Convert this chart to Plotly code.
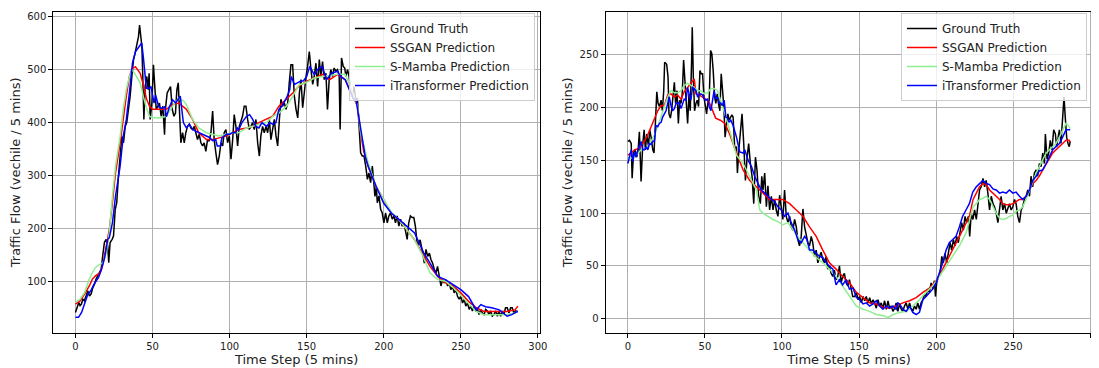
import plotly.graph_objects as go

# ---------------- data ----------------
# Left panel: (time step, traffic flow)
left_truth = [(0,41),(0.9,50),(2.2,60),(3,54),(3.9,57),(4.8,66),(5.8,63),(6.9,72),(8,82),(9.1,72),(10.2,76),(11.3,88),(12.3,94),(13.4,104),(14.5,110),(15.6,116),(16.7,123),(17.7,148),(18.8,173),(19.9,179),(21,166),(21.6,135),(22.5,173),(23.8,179),(24.7,185),(25.8,235),(26.8,248),(27.9,298),(29,342),(30.1,373),(31.2,361),(32.3,392),(33.3,399),(34.4,424),(35.5,449),(36.6,486),(37.7,518),(38.7,530),(39.8,543),(40.9,561),(41.6,583),(42.2,561),(43.1,543),(43.7,486),(44.4,405),(45.2,467),(46.3,486),(47.2,461),(47.8,492),(48.5,405),(49.6,436),(50.6,508),(51.5,461),(52.4,424),(53.5,430),(54.5,436),(55.6,411),(56.7,430),(57.8,376),(58.4,424),(59.5,455),(60.6,461),(61.7,467),(62.8,424),(63.9,411),(64.9,417),(65.8,461),(66.7,474),(67.6,390),(68.4,361),(69.5,380),(70.6,361),(71.6,380),(72.7,392),(73.8,396),(74.9,389),(76,386),(77.1,392),(78.1,380),(79.2,367),(80.3,377),(81.4,361),(82.5,355),(83.5,361),(84.6,345),(85.7,367),(86.8,364),(87.9,380),(89,421),(90,367),(91.1,342),(92.2,320),(93.3,336),(94.4,361),(95.5,355),(96.5,380),(97.6,386),(98.7,361),(99.8,374),(100.9,330),(102,367),(103,414),(104.1,392),(105.2,355),(106.3,392),(107.4,405),(108.4,411),(109.5,430),(110.6,430),(111.7,405),(112.8,386),(113.9,392),(114.9,399),(116,386),(117.1,405),(118.2,361),(119.3,336),(120.3,374),(121.4,392),(122.5,380),(123.6,392),(124.7,380),(125.8,405),(126.8,367),(127.9,386),(129,405),(130.1,374),(131.2,355),(132.3,405),(133.3,443),(134.4,430),(135.5,436),(136.6,424),(137.7,436),(138.7,474),(139.8,508),(140.9,508),(142,449),(143.1,424),(144.2,408),(145.3,455),(146.3,480),(147.4,427),(148.5,461),(149.6,486),(150.6,505),(151.7,533),(152.8,499),(153.9,471),(154.9,486),(156,511),(157.1,467),(158.2,518),(159.2,486),(160.3,514),(161.4,480),(162.5,492),(163.5,424),(164.6,480),(165.7,499),(166.8,486),(167.8,502),(168.9,496),(170,499),(171.1,486),(171.7,386),(172.6,521),(173.7,505),(174.7,502),(175.4,486),(176.5,499),(177.5,486),(178.6,458),(179.7,449),(180.8,467),(181.8,442),(182.9,445),(184,392),(185,342),(186.1,336),(187.2,336),(188.3,317),(189.4,292),(190.4,304),(191.5,286),(192.6,317),(193.7,273),(194.3,260),(195.2,279),(195.8,248),(196.9,261),(198,235),(199,229),(200.1,210),(201.2,229),(202.3,210),(203.3,223),(204.4,229),(205.5,217),(206.6,223),(207.6,210),(208.7,223),(209.8,204),(210.9,217),(211.9,204),(213,210),(214.1,195),(215.2,179),(216.2,210),(217.3,223),(218.4,220),(219.5,220),(220.5,204),(221.6,173),(222.7,170),(223.6,178),(225.3,153),(226.3,134),(227.4,160),(228.5,147),(229.6,153),(230.6,141),(231.7,134),(232.8,122),(233.9,116),(234.9,128),(236,109),(237.1,91),(238.2,103),(239.2,97),(240.3,103),(241.4,91),(242.5,97),(243.5,84),(244.6,91),(245.7,78),(246.8,84),(247.8,72),(248.9,66),(250,72),(251.1,59),(252.2,66),(253.2,53),(254.3,59),(255.4,47),(256.5,53),(257.5,44),(258.6,53),(259.7,44),(260.8,47),(261.8,37),(262.9,47),(264,40),(265.1,37),(266.1,47),(267.2,44),(268.3,37),(269.4,44),(270.4,34),(271.5,37),(272.6,44),(273.7,34),(274.7,44),(275.8,34),(276.9,44),(277.9,37),(279,50),(280.1,50),(281.2,40),(282.3,50),(283.3,50),(284.4,40),(285.5,44),(286.6,44),(287,43)]

left_ssgan = [(0,57),(3,63),(6,76),(9,91),(11,104),(13,110),(16,116),(18,135),(20,166),(22,198),(24,248),(26,304),(29,361),(31,411),(33,449),(35,486),(37,502),(39,504),(42,492),(44,471),(46,445),(48,430),(50,424),(55,424),(59,424),(63,433),(67,436),(72,424),(76,405),(80,380),(85,367),(89,367),(93,370),(98,374),(102,380),(106,386),(111,389),(115,392),(119,399),(124,405),(128,411),(132,430),(137,443),(141,455),(145,468),(150,477),(155,483),(160,490),(165,480),(170,490),(175,480),(180,448),(183,430),(185,380),(187,345),(190,316),(195,279),(200,254),(205,228),(210,216),(215,197),(220,178),(225,153),(230,128),(235,109),(240,97),(245,91),(250,78),(255,62),(260,50),(265,43),(270,43),(275,43),(280,43),(285,46),(287,53)]

left_smamba = [(0,60),(3,66),(6,79),(9,104),(11,116),(13,126),(16,132),(18,135),(20,154),(22,192),(24,260),(26,317),(29,373),(31,424),(33,461),(35,486),(37,499),(39,489),(42,474),(44,449),(46,427),(48,411),(50,408),(55,408),(59,411),(63,430),(67,445),(70,440),(72,433),(76,405),(80,389),(85,380),(89,377),(93,374),(98,377),(102,380),(106,380),(111,389),(115,392),(119,396),(124,399),(128,411),(132,417),(137,430),(141,449),(145,470),(150,475),(155,483),(160,486),(165,488),(170,490),(175,490),(180,455),(183,430),(185,380),(190,322),(195,279),(200,254),(205,230),(210,216),(215,197),(220,178),(225,150),(230,116),(235,103),(240,100),(245,88),(250,72),(255,58),(260,43),(265,37),(270,37),(275,37),(280,37),(285,40),(287,43)]

left_itrans = [(0,32),(2,32),(4,41),(6,60),(8,75),(10,82),(12,94),(15,107),(17,123),(19,145),(21,179),(22,182),(24,210),(26,260),(29,317),(31,373),(33,405),(35,455),(37,511),(39,533),(42,546),(43,549),(44,524),(45,486),(46,464),(48,464),(49,467),(51,436),(52,451),(54,429),(56,426),(58,429),(59,410),(61,429),(63,442),(65,436),(67,445),(68,449),(70,399),(72,389),(74,396),(76,386),(78,383),(80,380),(82,377),(85,374),(87,371),(89,365),(91,367),(92,355),(94,355),(95,370),(98,377),(100,377),(102,380),(104,380),(105,389),(106,386),(108,399),(111,411),(113,414),(115,405),(117,392),(119,389),(121,399),(124,392),(126,399),(128,396),(130,399),(132,424),(134,430),(137,446),(139,461),(140,486),(141,480),(142,471),(144,474),(146,477),(148,478),(150,486),(152,505),(155,489),(157,499),(160,505),(163,480),(166,492),(170,496),(172,486),(175,480),(178,461),(180,445),(182,442),(185,392),(188,335),(190,316),(195,279),(200,247),(205,228),(210,216),(215,203),(220,191),(223,172),(226,153),(230,134),(235,109),(240,103),(245,93),(250,84),(255,71),(260,46),(263,56),(266,52),(270,50),(275,46),(280,34),(283,37),(287,43)]

# Right panel: (time step, traffic flow)
right_truth = [(0,168),(1.1,169),(2.2,166),(2.8,133),(3.7,157),(4.7,160),(5.8,153),(6.7,160),(7.5,177),(8.6,130),(9.7,166),(10.6,179),(11.4,160),(12.3,175),(13.4,163),(14.2,179),(15.1,172),(16.2,160),(17,157),(17.9,188),(18.8,215),(19.6,204),(20.5,201),(21.6,207),(22.4,197),(23.3,216),(23.9,243),(25.2,241),(26.1,229),(26.7,194),(27.6,190),(28.4,197),(29.3,213),(30.2,224),(31,204),(31.9,216),(32.8,185),(33.6,207),(34.5,204),(35.3,213),(36.2,245),(37.1,226),(37.9,199),(38.8,185),(39.7,213),(40.5,197),(41.4,245),(41.8,276),(42.5,229),(43.3,197),(44.2,204),(45,207),(45.9,201),(46.8,235),(47.6,232),(48.5,232),(49.4,210),(50.2,201),(51.1,194),(51.9,204),(52.8,207),(53.7,254),(54.5,251),(55.4,235),(56.3,210),(57.1,204),(58,213),(58.8,204),(59.7,197),(60.6,232),(61.4,220),(62.3,201),(63.1,172),(64,185),(64.9,194),(65.7,188),(66.6,191),(67.5,193),(68.3,191),(69.4,160),(70.5,163),(71.1,138),(72.2,163),(73.3,185),(74.1,194),(75.2,166),(76.3,131),(77.4,153),(78.4,166),(79.5,147),(80.6,135),(81.7,109),(82.8,153),(83.8,141),(84.9,116),(86,109),(86.9,135),(87.7,122),(88.8,138),(89.9,106),(90.9,126),(92,103),(93.1,116),(94.2,103),(95.3,113),(96.3,103),(97.4,97),(98.5,117),(99.6,103),(100.6,94),(101.7,122),(102.8,97),(103.9,91),(105,97),(106,87),(107.1,84),(108.2,94),(109.3,87),(110.3,75),(111.4,69),(112.5,78),(113.6,104),(114.7,87),(115.7,78),(116.8,72),(117.9,69),(119,78),(120,72),(121.1,59),(122.2,65),(123.3,53),(124.4,59),(125.4,63),(126.5,56),(127.6,53),(128.7,59),(129.7,47),(130.8,50),(131.9,43),(133,40),(134,46),(135.1,37),(136.2,40),(137.3,50),(138.4,34),(139.4,40),(140.5,43),(141.6,34),(142.7,31),(143.8,37),(144.8,28),(145.9,21),(147.2,21),(148.3,25),(149.4,18),(150.4,21),(151.5,15),(152.6,21),(153.7,17),(154.7,21),(155.8,15),(156.9,20),(158,14),(159.1,18),(160.1,15),(161.2,10),(162.3,18),(163.4,12),(164.4,15),(165.5,10),(166.6,17),(167.7,9),(168.8,17),(169.8,10),(170.9,12),(172,7),(173.1,10),(174.1,15),(175.2,7),(176.3,14),(177.4,9),(178.4,7),(179.5,12),(180.6,15),(181.7,9),(182.8,15),(183.8,10),(184.9,7),(186,12),(187.1,9),(188.1,15),(189.2,9),(190.3,15),(191.4,18),(192.5,23),(193.5,21),(194.6,28),(195.7,25),(196.8,34),(197.8,28),(198.9,36),(199.6,21),(200.4,34),(201.5,40),(202.6,43),(203.7,59),(204.7,53),(205.8,62),(206.9,53),(208,62),(209.1,72),(210.1,65),(211.2,75),(212.3,69),(213.4,78),(214.4,72),(215.5,84),(216.6,91),(217.7,84),(218.8,97),(219.8,91),(220.9,97),(221.8,78),(222.8,100),(223.9,94),(225,103),(226.1,94),(227.2,113),(228.2,122),(229.3,125),(230.4,133),(231.5,125),(232.5,131),(233.6,119),(234.7,103),(235.8,116),(236.9,109),(237.9,106),(239,100),(240.1,91),(241.2,103),(242.2,116),(243.3,103),(244.4,109),(245.5,100),(246.6,106),(247.6,109),(248.7,103),(249.8,106),(250.9,113),(251.9,109),(253,97),(254.1,91),(255.2,103),(256.2,106),(257.3,113),(258.4,116),(259.5,122),(260.6,116),(261.6,135),(262.7,125),(263.8,138),(264.9,141),(265.9,135),(267,147),(268.1,144),(269.2,157),(270.3,147),(270.9,175),(272,151),(273.1,157),(274.1,169),(275.2,160),(276.3,179),(277.4,175),(278.2,163),(279.1,172),(280,179),(281,166),(282.1,197),(283,210),(283.8,191),(284.7,172),(285.6,166),(286.4,163),(287,168)]

right_ssgan = [(0,155),(2.2,157),(4.3,160),(6.5,161),(8.6,164),(10.8,168),(12.9,174),(15.1,182),(17.2,190),(19.4,197),(21.6,202),(23.7,202),(25.9,212),(28,213),(30.2,210),(32.3,212),(34.5,208),(36.6,215),(38.8,219),(40.9,223),(43.1,227),(44.2,213),(46.3,212),(48.5,210),(50.6,208),(52.8,205),(55,197),(57,190),(60,188),(63,185),(66,175),(68,166),(70.5,157),(74.8,141),(79.1,131),(83.4,125),(87.7,119),(92,113),(96.3,113),(100.6,113),(102.8,111),(105,109),(109.3,103),(113.6,97),(117.9,87),(122.2,78),(126.5,65),(130.8,53),(135.1,47),(139.4,40),(143.8,34),(147,28),(148.3,25),(152.6,20),(156.9,15),(161.2,14),(165.5,11),(169.8,10),(174.1,12),(178.4,15),(182.8,17),(187.1,20),(191.4,25),(195.7,29),(200,36),(204.3,47),(208.6,59),(212.9,72),(217.2,84),(221.6,97),(224,113),(226.1,119),(228.2,125),(230.4,128),(232.5,127),(234.7,122),(236.9,119),(239,116),(241.2,113),(243.3,109),(245.5,108),(247.6,108),(249.8,109),(251.9,111),(254,113),(256,113),(258.4,116),(260.6,122),(262.7,128),(264.9,131),(267,135),(269.2,141),(271.4,146),(273.5,152),(275.7,157),(277.8,160),(280,163),(282.1,166),(284.3,169),(286.4,169),(287,167)]

right_smamba = [(0,153),(2.2,152),(4.3,153),(6.5,157),(8.6,160),(10.8,161),(12.9,163),(15.1,168),(17.2,174),(19.4,182),(21.6,191),(23.7,201),(25.9,210),(28,216),(30.2,214),(32.3,214),(34.5,216),(36.6,221),(38.8,223),(40.9,221),(43.1,219),(45.3,216),(47.4,216),(49.6,213),(51.7,214),(53.9,218),(56,218),(58.2,216),(60.3,207),(62.5,197),(64.7,186),(66.5,176),(68.5,165),(70.5,155),(74.8,147),(79.1,135),(83.4,122),(85.6,103),(87.7,100),(90.9,97),(94.2,94),(97.4,92),(100.6,89),(103.9,91),(107.1,84),(110.3,78),(113.6,72),(117.9,65),(122.2,58),(126.5,53),(130.8,47),(135.1,40),(139.4,31),(143.8,21),(147,14),(148.3,12),(152.6,9),(156.9,7),(161.2,4),(165.5,3),(168.8,1),(172,4),(176.3,6),(180.6,7),(184.9,12),(189.2,18),(193.5,25),(197.8,31),(202.2,40),(206.5,50),(210.8,59),(215.1,69),(219.4,81),(222.6,97),(224,106),(226.1,109),(228.2,113),(230.4,114),(232.5,116),(234.7,113),(236.9,106),(239,100),(241.2,95),(243.3,94),(245.5,95),(247.6,97),(249.8,98),(251.9,102),(254.1,103),(256.2,106),(258.4,113),(260.6,122),(262.7,131),(264.9,138),(267,144),(269.2,150),(271.4,157),(273.5,160),(275.7,163),(277.8,166),(280,172),(282.1,179),(284.3,185),(285.3,184),(286.4,182),(287,180)]

right_itrans = [(0,147),(1.1,153),(2.2,160),(3.3,149),(4.3,158),(5.4,153),(6.5,160),(7.5,163),(8.6,168),(9.7,160),(10.8,160),(11.9,163),(13,160),(14,166),(15.1,165),(16.2,168),(17.2,168),(18.3,183),(19.4,182),(20.5,185),(21.6,186),(22.6,191),(23.7,194),(24.8,197),(25.9,204),(26.9,210),(28,202),(29.1,197),(30.2,199),(31.3,204),(32.3,204),(33.4,205),(34.5,199),(35.6,204),(36.6,208),(37.7,207),(38.8,219),(39.9,212),(40.9,207),(42,219),(43.1,218),(44.2,216),(45.3,210),(46.3,212),(47.4,213),(48.5,212),(49.6,208),(50.6,207),(51.7,208),(52.8,201),(53.9,197),(55,207),(56,216),(57.1,208),(58.2,210),(59.3,204),(60.3,204),(61.4,202),(62.5,207),(63.6,191),(64.7,190),(65.7,186),(66.8,188),(68.3,183),(70.5,172),(72.6,158),(74.8,157),(75.9,160),(78.1,150),(80.3,144),(82.3,135),(84.5,128),(86.6,122),(88.8,119),(90.9,116),(93.1,113),(95.3,111),(97.4,106),(99.6,103),(101.7,97),(103.9,100),(106,91),(108.2,84),(110.3,75),(112.5,72),(114.7,78),(116.2,75),(117.9,65),(120,65),(122.2,62),(124.4,59),(126.5,58),(128.7,53),(130.8,50),(133,47),(135.1,32),(137.3,37),(139.4,32),(141.6,37),(143.8,28),(146.1,29),(148.3,20),(150.4,18),(152.6,14),(154.7,15),(156.9,12),(159.1,14),(161.2,17),(163.4,12),(165.5,9),(167.7,12),(169.8,10),(172,12),(174.1,9),(175.2,15),(176.3,14),(178.4,9),(180.6,7),(182.8,12),(184.9,6),(187.1,4),(189.2,6),(191.4,18),(193.5,21),(195.7,25),(197.8,28),(200,34),(202.2,43),(204.3,53),(206.5,65),(208.6,72),(210.8,75),(212.9,78),(215.1,87),(217.2,97),(219.4,103),(221.6,109),(223.8,120),(226.1,125),(228.2,128),(230.4,131),(232.5,128),(234.7,127),(236.9,123),(239,122),(241.2,119),(243.3,120),(245.5,119),(247.6,122),(249.8,119),(251.9,120),(254.1,116),(256.2,113),(258.4,116),(260.6,122),(262.7,131),(264.9,135),(267,140),(269.2,141),(271.4,147),(273.5,153),(275.7,160),(277.8,163),(280,166),(282.1,172),(284.3,179),(286.4,179),(287,179)]

series_names = ["Ground Truth", "SSGAN Prediction", "S-Mamba Prediction", "iTransformer Prediction"]
series_colors = ["black", "red", "#90ee90", "blue"]
x_ticks = [0, 50, 100, 150, 200, 250, 300]
left_y_ticks = [100, 200, 300, 400, 500, 600]
right_y_ticks = [0, 50, 100, 150, 200, 250]
x_title = "Time Step (5 mins)"
y_title = "Traffic Flow (vechile / 5 mins)"

# ---------------- figure ----------------
# The page body has an 8px margin, so the figure is 8px smaller each way and
# positions below are page pixels minus that offset.
OFF = 8
W, H = 1099 - OFF, 368 - OFF
FONT = "DejaVu Sans"
fig = go.Figure()

panels = [
    ("x", "y", "legend", [left_truth, left_ssgan, left_smamba, left_itrans]),
    ("x2", "y2", "legend2", [right_truth, right_ssgan, right_smamba, right_itrans]),
]
for xa, ya, leg, groups in panels:
    for name, color, pts in zip(series_names, series_colors, groups):
        t = [p[0] for p in pts]
        v = [p[1] for p in pts]
        fig.add_trace(go.Scatter(
            x=t, y=v, mode="lines", name=name,
            line=dict(color=color, width=1.5),
            xaxis=xa, yaxis=ya, legend=leg,
        ))

def px_x(p):
    return (p - OFF) / W

def px_y(p):
    return 1 - (p - OFF) / H

axis_common = dict(
    showgrid=True, gridcolor="#b0b0b0", gridwidth=1,
    showline=True, linecolor="black", linewidth=1, mirror=True,
    ticks="outside", ticklen=4, tickwidth=1, tickcolor="black",
    zeroline=False, automargin=False,
    tickfont=dict(family=FONT, size=10, color="#222"),
)

y_dom = [px_y(333.2), px_y(11.5)]
fig.update_layout(
    width=W, height=H,
    margin=dict(l=0, r=0, t=0, b=0),
    paper_bgcolor="white", plot_bgcolor="white",
    font=dict(family=FONT, color="#222"),
    xaxis=dict(domain=[px_x(53.3), px_x(540)], range=[-14.35, 301.35], tickvals=x_ticks,
               title=dict(text=x_title, font=dict(family=FONT, size=13), standoff=3), anchor="y", **axis_common),
    yaxis=dict(domain=y_dom, range=[2, 608.5], tickvals=left_y_ticks,
               title=dict(text=y_title, font=dict(family=FONT, size=13), standoff=4), anchor="x", **axis_common),
    xaxis2=dict(domain=[px_x(605.7), px_x(1092.3)], range=[-14.35, 301.35], tickvals=x_ticks,
                title=dict(text=x_title, font=dict(family=FONT, size=13), standoff=3), anchor="y2", **axis_common),
    yaxis2=dict(domain=y_dom, range=[-13.7, 291], tickvals=right_y_ticks,
                title=dict(text=y_title, font=dict(family=FONT, size=13), standoff=4), anchor="x2", **axis_common),
    legend=dict(x=px_x(535), y=px_y(13), xanchor="right", yanchor="top",
                bgcolor="rgba(255,255,255,0.8)", bordercolor="#cccccc", borderwidth=1,
                font=dict(family=FONT, size=12, color="#222"), tracegroupgap=0),
    legend2=dict(x=px_x(1087), y=px_y(13), xanchor="right", yanchor="top",
                 bgcolor="rgba(255,255,255,0.8)", bordercolor="#cccccc", borderwidth=1,
                 font=dict(family=FONT, size=12, color="#222"), tracegroupgap=0),
)

fig.write_html("out.html")
